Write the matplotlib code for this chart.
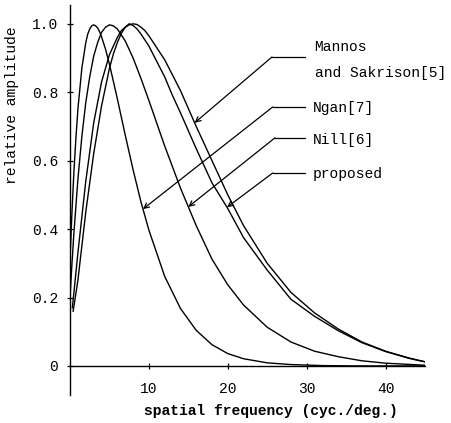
import matplotlib
matplotlib.use("Agg")
import matplotlib.pyplot as plt
import numpy as np

# ---- data ----
ngan_f = [0, 0.25, 0.5, 0.75, 1, 1.5, 2, 2.25, 2.5, 2.75, 3, 3.25, 3.5, 3.75, 4, 4.5, 5, 6, 7, 8, 9, 10,
          12, 14, 16, 18, 20, 22, 25, 28, 32, 36, 45]
ngan_v = [0.31, 0.45, 0.57, 0.666, 0.75, 0.87, 0.945, 0.97, 0.985, 0.994, 0.997, 0.994, 0.988, 0.977,
          0.962, 0.926, 0.882, 0.781, 0.675, 0.573, 0.479, 0.397, 0.262, 0.168, 0.104, 0.062, 0.036,
          0.021, 0.009, 0.004, 0.001, 0.0, 0.0]

nill_f = [0, 0.25, 0.5, 1, 1.5, 2, 2.5, 3, 3.5, 4, 4.5, 5, 5.5, 6, 7, 8, 9, 10, 12, 14, 16, 18, 20, 22,
          25, 28, 31, 34, 37, 40, 45]
nill_v = [0.2, 0.3, 0.39, 0.545, 0.67, 0.77, 0.845, 0.905, 0.945, 0.975, 0.99, 0.997, 0.994, 0.985, 0.95,
          0.9, 0.84, 0.776, 0.643, 0.52, 0.41, 0.312, 0.237, 0.178, 0.113, 0.07, 0.043, 0.027, 0.015,
          0.008, 0.002]

mannos_f = [0.3, 1, 2, 3, 4, 5, 6, 6.5, 7, 7.5, 8, 8.5, 9, 9.5, 10, 12, 14, 16, 18, 20, 22, 25, 28, 31,
            34, 37, 40, 43, 45]
mannos_v = [0.17, 0.33, 0.54, 0.71, 0.83, 0.91, 0.96, 0.98, 0.99, 0.997, 1.0, 0.998, 0.99, 0.98, 0.965,
            0.895, 0.805, 0.70, 0.60, 0.50, 0.41, 0.30, 0.215, 0.155, 0.108, 0.07, 0.043, 0.023, 0.012]

proposed_f = [0.4, 1, 2, 3, 4, 5, 5.5, 6, 6.5, 7, 7.5, 8, 8.5, 9, 10, 11, 12, 13, 14, 16, 18, 20, 22, 25,
              28, 31, 34, 37, 40, 43, 45]
proposed_v = [0.16, 0.25, 0.45, 0.62, 0.76, 0.87, 0.912, 0.945, 0.972, 0.99, 1.0, 0.995, 0.985, 0.97,
              0.935, 0.89, 0.845, 0.79, 0.74, 0.635, 0.535, 0.46, 0.375, 0.28, 0.195, 0.145, 0.103,
              0.068, 0.042, 0.022, 0.012]

x_ticks = [10, 20, 30, 40]
y_ticks = [0, 0.2, 0.4, 0.6, 0.8, 1.0]
y_ticklabels = ["0", "0.2", "0.4", "0.6", "0.8", "1.0"]

FONT = "Liberation Mono"

fig = plt.figure(figsize=(4.51, 4.23), dpi=100)
ax = fig.add_axes([70 / 451, 28 / 423, 355 / 451, 390 / 423])
ax.set_xlim(0, 45)
ax.set_ylim(-0.085, 1.055)

for fx, vy in [(ngan_f, ngan_v), (nill_f, nill_v), (mannos_f, mannos_v), (proposed_f, proposed_v)]:
    ax.plot(fx, vy, color="black", lw=1.0, solid_joinstyle="round")

for s in ["top", "right"]:
    ax.spines[s].set_visible(False)
ax.spines["bottom"].set_position(("data", 0))
ax.spines["left"].set_position(("data", 0))
ax.spines["bottom"].set_linewidth(1.0)
ax.spines["left"].set_linewidth(1.0)

ax.set_xticks(x_ticks)
ax.set_xticklabels([str(t) for t in x_ticks], fontfamily=FONT, fontsize=10.5)
ax.set_yticks(y_ticks)
ax.set_yticklabels(y_ticklabels, fontfamily=FONT, fontsize=10.5)
ax.tick_params(axis="x", direction="inout", length=5, width=0.9, pad=9)
ax.tick_params(axis="y", direction="inout", length=5, width=0.9, pad=6)

fig.text(12 / 451, 1 - 105 / 423, "relative amplitude", rotation=90, ha="center", va="center",
         fontfamily=FONT, fontsize=10.5)
fig.text(271 / 451, 1 - 411 / 423, "spatial frequency (cyc./deg.)", ha="center", va="center",
         fontfamily=FONT, fontsize=10.5, fontweight="bold")

# leader lines with arrows
labels = [
    # (curve f, curve v, tip f, elbow f, elbow v, end f)
    (mannos_f, mannos_v, 15.8, 25.6, 0.903, 29.8),
    (ngan_f, ngan_v, 9.25, 25.7, 0.757, 29.8),
    (nill_f, nill_v, 15.0, 26.0, 0.667, 29.8),
    (proposed_f, proposed_v, 19.9, 25.7, 0.564, 29.8),
]
for cf, cv, tf, ef, ev, endf in labels:
    tv = float(np.interp(tf, cf, cv))
    ax.plot([ef, endf], [ev, ev], color="black", lw=0.9)
    ax.annotate("", xy=(tf, tv), xytext=(ef, ev),
                arrowprops=dict(arrowstyle="->", lw=0.9, color="black",
                                shrinkA=0, shrinkB=0, mutation_scale=9))

txt = dict(fontfamily=FONT, fontsize=10.5, ha="left", va="center")
ax.text(31.0, 0.933, "Mannos", **txt)
ax.text(31.0, 0.857, "and Sakrison[5]", **txt)
ax.text(30.8, 0.754, "Ngan[7]", **txt)
ax.text(30.8, 0.661, "Nill[6]", **txt)
ax.text(30.7, 0.560, "proposed", **txt)

fig.savefig("out.png", dpi=100)
